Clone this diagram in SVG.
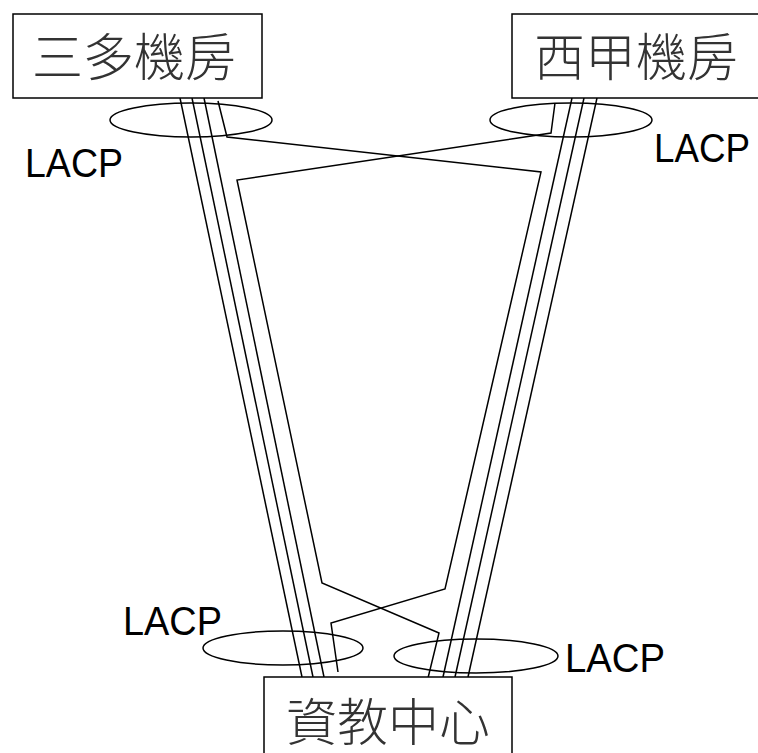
<svg xmlns="http://www.w3.org/2000/svg" width="758" height="753" viewBox="0 0 758 753">
<style>
.box{fill:#fff;stroke:#000;stroke-width:1.5}
.ell{fill:none;stroke:#000;stroke-width:1.5}
.ln{fill:none;stroke:#000;stroke-width:1.5;stroke-linejoin:miter}
.cjk{font-family:"Noto Sans CJK TC","Noto Sans CJK SC",sans-serif;font-size:51px;font-weight:300;fill:#333;text-anchor:middle}
.lacp{font-family:"Liberation Sans",Arial,sans-serif;font-size:41px;fill:#000}
</style>
<rect width="758" height="753" fill="#fff"/>
<g id="connectors">
<line class="ln" x1="180" y1="98" x2="302" y2="677"/>
<line class="ln" x1="192" y1="98" x2="313" y2="677"/>
<line class="ln" x1="204" y1="98" x2="324" y2="677"/>
<line class="ln" x1="572" y1="98" x2="443" y2="677"/>
<line class="ln" x1="584" y1="98" x2="455" y2="677"/>
<line class="ln" x1="597" y1="98" x2="468" y2="677"/>
<polyline class="ln" points="218,101 227,137 541,172 445,589 331,623 338,672"/>
<polyline class="ln" points="555,103 551,133 237,180 322,583 439,633 428,678"/>
</g>
<g id="node-sanduo">
<rect class="box" x="13" y="14" width="249" height="84"/>
<text class="cjk" x="134" y="76">三多機房</text>
</g>
<g id="node-xijia">
<rect class="box" x="512" y="14" width="249" height="84"/>
<text class="cjk" x="636" y="76">西甲機房</text>
</g>
<g id="node-center">
<rect class="box" x="264" y="677" width="248" height="90"/>
<text class="cjk" x="388" y="741">資教中心</text>
</g>
<g id="lacp-top-left">
<ellipse class="ell" cx="191" cy="120" rx="81" ry="17"/>
<text class="lacp" x="25" y="177" textLength="98" lengthAdjust="spacingAndGlyphs">LACP</text>
</g>
<g id="lacp-top-right">
<ellipse class="ell" cx="571" cy="120" rx="81" ry="17"/>
<text class="lacp" x="654" y="162" textLength="96" lengthAdjust="spacingAndGlyphs">LACP</text>
</g>
<g id="lacp-bottom-left">
<ellipse class="ell" cx="283" cy="648" rx="80" ry="17"/>
<text class="lacp" x="123" y="635" textLength="99" lengthAdjust="spacingAndGlyphs">LACP</text>
</g>
<g id="lacp-bottom-right">
<ellipse class="ell" cx="476" cy="656" rx="82" ry="17"/>
<text class="lacp" x="565" y="672" textLength="100" lengthAdjust="spacingAndGlyphs">LACP</text>
</g>
</svg>
